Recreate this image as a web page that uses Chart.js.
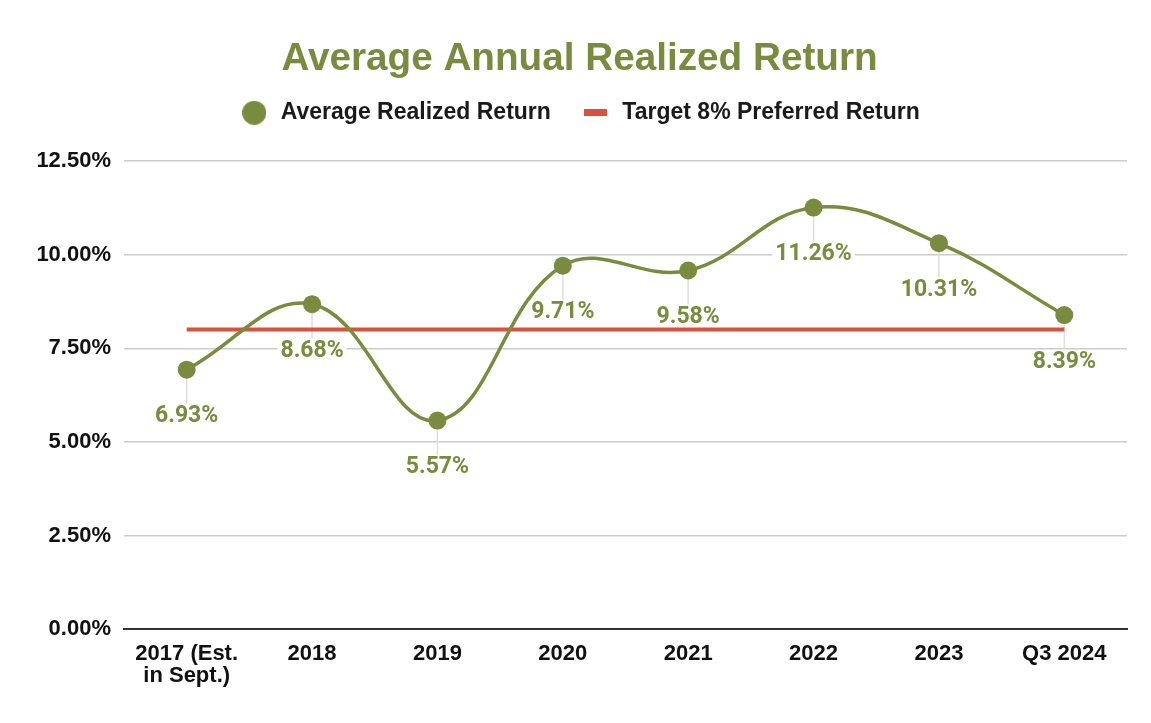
<!DOCTYPE html>
<html>
<head>
<meta charset="utf-8">
<script src="https://cdn.jsdelivr.net/npm/chart.js@4.4.1/dist/chart.umd.min.js"></script>
<style>
  html, body { margin: 0; padding: 0; background: #ffffff; }
  #wrap { width: 1151px; height: 723px; position: relative; }
</style>
</head>
<body>
<div id="wrap"><canvas id="c" width="1151" height="723"></canvas></div>
<script>
const categories = [["2017 (Est.", "in Sept.)"], "2018", "2019", "2020", "2021", "2022", "2023", "Q3 2024"];
const realizedReturn = [6.93, 8.68, 5.57, 9.71, 9.58, 11.26, 10.31, 8.39];
const targetReturn = [8, 8, 8, 8, 8, 8, 8, 8];
const yTicks = [0, 2.5, 5, 7.5, 10, 12.5];

const OLIVE = '#7a8a3e';
const RED = '#d9523f';

function makeCircleIcon(color, d) {
  const c = document.createElement('canvas');
  c.width = d; c.height = d;
  const x = c.getContext('2d');
  x.fillStyle = color;
  x.beginPath();
  x.arc(d / 2, d / 2, d / 2, 0, Math.PI * 2);
  x.fill();
  return c;
}
function makeDashIcon(color, w, h) {
  const c = document.createElement('canvas');
  c.width = w; c.height = h;
  const x = c.getContext('2d');
  x.fillStyle = color;
  x.fillRect(0, 0, w, h);
  return c;
}
const circleIcon = makeCircleIcon(OLIVE, 24);
const dashIcon = makeDashIcon(RED, 23, 7);

const legendSpacer = {
  id: 'legendSpacer',
  beforeLayout(chart) {
    const lg = chart.legend;
    if (lg && !lg._spacerPatched) {
      const orig = lg.fit.bind(lg);
      lg.fit = function () {
        orig();
        this.height += 27;
      };
      lg._spacerPatched = true;
    }
  }
};

const pointLabels = {
  id: 'pointLabels',
  beforeDatasetsDraw(chart) {
    const ctx = chart.ctx;
    const meta = chart.getDatasetMeta(0);
    ctx.save();
    ctx.strokeStyle = '#dedede';
    ctx.lineWidth = 1.5;
    meta.data.forEach((pt) => {
      ctx.beginPath();
      ctx.moveTo(pt.x, pt.y);
      ctx.lineTo(pt.x, pt.y + 34);
      ctx.stroke();
    });
    ctx.restore();
  },
  afterDatasetsDraw(chart) {
    const ctx = chart.ctx;
    const meta = chart.getDatasetMeta(0);
    const data = chart.data.datasets[0].data;
    ctx.save();
    ctx.font = 'bold 23px Roboto';
    ctx.textAlign = 'center';
    ctx.textBaseline = 'middle';
    meta.data.forEach((pt, i) => {
      const txt = data[i].toFixed(2) + '%';
      const w = ctx.measureText(txt).width;
      const cy = pt.y + 46;
      ctx.fillStyle = '#ffffff';
      ctx.fillRect(pt.x - w / 2 - 3, cy - 10, w + 6, 20);
      ctx.fillStyle = OLIVE;
      ctx.fillText(txt, pt.x, cy + 1);
    });
    ctx.restore();
  }
};

new Chart(document.getElementById('c'), {
  type: 'line',
  data: {
    labels: categories,
    datasets: [
      {
        label: 'Average Realized Return',
        data: realizedReturn,
        borderColor: OLIVE,
        backgroundColor: OLIVE,
        borderWidth: 3.5,
        tension: 0.4,
        pointRadius: 9,
        pointHoverRadius: 9,
        pointBackgroundColor: OLIVE,
        pointBorderWidth: 0,
        fill: false
      },
      {
        label: 'Target 8% Preferred Return',
        data: targetReturn,
        borderColor: RED,
        backgroundColor: RED,
        borderWidth: 4,
        pointRadius: 0,
        tension: 0,
        fill: false
      }
    ]
  },
  options: {
    responsive: false,
    animation: false,
    layout: { padding: { left: 8, right: 0, top: 0, bottom: 22 } },
    plugins: {
      tooltip: { enabled: false },
      title: {
        display: true,
        text: 'Average Annual Realized Return',
        color: OLIVE,
        font: { family: 'Liberation Sans', size: 38.7, weight: 'bold', lineHeight: 0.6 },
        padding: { top: 48, bottom: 0 }
      },
      legend: {
        display: true,
        position: 'top',
        labels: {
          color: '#1a1a1a',
          font: { family: 'Liberation Sans', size: 23, weight: 'bold' },
          usePointStyle: true,
          pointStyleWidth: 30,
          boxHeight: 17,
          padding: 30,
          generateLabels(chart) {
            return [
              { text: 'Average Realized Return', fillStyle: OLIVE, strokeStyle: OLIVE, lineWidth: 0, pointStyle: circleIcon, datasetIndex: 0, hidden: false, fontColor: '#1a1a1a' },
              { text: 'Target 8% Preferred Return', fillStyle: RED, strokeStyle: RED, lineWidth: 0, pointStyle: dashIcon, datasetIndex: 1, hidden: false, fontColor: '#1a1a1a' }
            ];
          }
        }
      }
    },
    scales: {
      x: {
        offset: true,
        grid: { display: false, drawTicks: false },
        border: { display: true, color: '#333333', width: 2 },
        ticks: {
          color: '#111111',
          font: { family: 'Liberation Sans', size: 22, weight: 'bold', lineHeight: 1.0 },
          padding: 14,
          maxRotation: 0,
          autoSkip: false
        }
      },
      y: {
        min: 0,
        max: 12.5,
        afterFit(scale) { scale.width = 116; },
        afterBuildTicks(scale) { scale.ticks = yTicks.map(v => ({ value: v })); },
        grid: {
          color: (c) => (c.tick && c.tick.value === 0 ? '#333333' : '#cccccc'),
          lineWidth: 1.5,
          drawTicks: false
        },
        border: { display: false },
        ticks: {
          color: '#111111',
          font: { family: 'Liberation Sans', size: 22, weight: 'bold' },
          padding: 13,
          callback: (v) => Number(v).toFixed(2) + '%'
        }
      },
      yRightSpace: {
        type: 'linear',
        position: 'right',
        display: true,
        min: 0,
        max: 12.5,
        afterFit(scale) { scale.width = 24; },
        grid: { display: false, drawTicks: false },
        border: { display: false },
        ticks: { display: false }
      }
    }
  },
  plugins: [legendSpacer, pointLabels]
});
</script>
</body>
</html>
